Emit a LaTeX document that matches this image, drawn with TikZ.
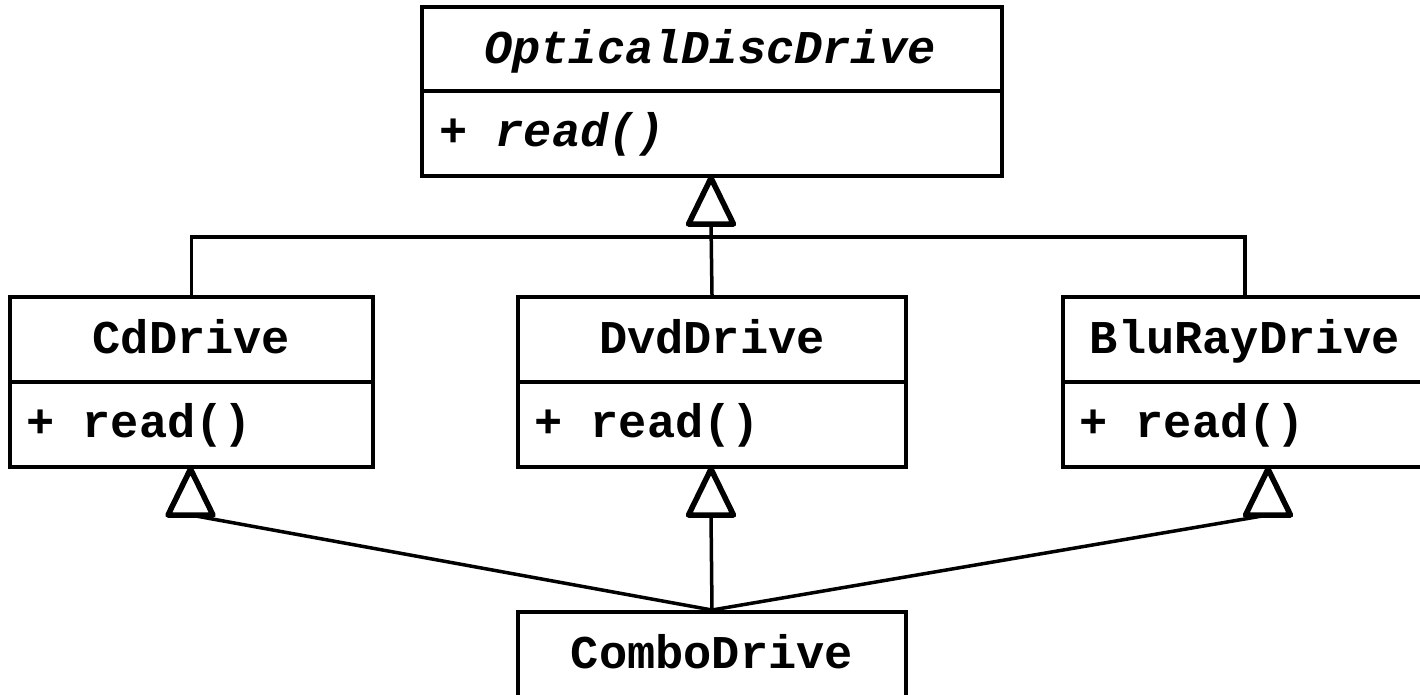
\documentclass[tikz,border=0pt]{standalone}
\usepackage{fontspec}
\setmonofont{Liberation Mono}
\usetikzlibrary{calc}

\tikzset{
  umlbox/.style={draw=black, line width=4pt, rectangle, inner sep=0pt, fill=white},
  umltext/.style={inner sep=0pt, font=\ttfamily\bfseries\fontsize{47}{56}\selectfont},
  conn/.style={line width=3.5pt},
  divider/.style={line width=4pt},
  genhead/.pic={
    \draw[line width=5.5pt, line join=round, fill=white]
      (0,0) -- (-22.5,46) -- (22.5,46) -- cycle;
  }
}

\begin{document}
\begin{tikzpicture}[x=1pt, y=-1pt]
  \useasboundingbox (0,0) rectangle (1420,694);
  \fill[white] (0,0) rectangle (1420,694);
  \clip (0,0) rectangle (1420,694);

  % class boxes (centre, size)
  \node[umlbox, minimum width=580pt, minimum height=169pt] (opt) at (712,91.5) {};
  \node[umlbox, minimum width=363pt, minimum height=170pt] (cd)  at (191.5,382) {};
  \node[umlbox, minimum width=388pt, minimum height=170pt] (dvd) at (712,382) {};
  \node[umlbox, minimum width=364pt, minimum height=170pt] (blu) at (1245,382) {};
  \node[umlbox, minimum width=388pt, minimum height=160pt] (combo) at (712,692) {};

  % compartment dividers
  \draw[divider] (opt.west |- 0,91) -- (opt.east |- 0,91);
  \draw[divider] (cd.west |- 0,382) -- (cd.east |- 0,382);
  \draw[divider] (dvd.west |- 0,382) -- (dvd.east |- 0,382);
  \draw[divider] (blu.west |- 0,382) -- (blu.east |- 0,382);

  % class names
  \node[umltext, anchor=base] (optname) at (710,63) {\itshape OpticalDiscDrive};
  \node[umltext, anchor=base] (cdname)  at (191.5,353) {CdDrive};
  \node[umltext, anchor=base] (dvdname) at (712,353) {DvdDrive};
  \node[umltext, anchor=base] (bluname) at (1245,353) {BluRayDrive};
  \node[umltext, anchor=base] (comboname) at (712,668) {ComboDrive};

  % operations
  \node[umltext, anchor=base west] (optop) at ($(opt.west |- 0,146)+(19,0)$) {+ \itshape read()};
  \node[umltext, anchor=base west] (cdop)  at ($(cd.west |- 0,437)+(18,0)$) {+ read()};
  \node[umltext, anchor=base west] (dvdop) at ($(dvd.west |- 0,437)+(18,0)$) {+ read()};
  \node[umltext, anchor=base west] (bluop) at ($(blu.west |- 0,437)+(18,0)$) {+ read()};

  % generalisation heads: apex on the parent box, base 46 below
  \coordinate (optbase) at ($(opt.south)+(-1,46)$);
  \coordinate (cdbase)  at ($(cd.south)+(-1,46)$);
  \coordinate (dvdbase) at ($(dvd.south)+(-1,46)$);
  \coordinate (blubase) at ($(blu.south)+(23,46)$);
  \coordinate (bus) at (712,237);

  % connectors
  \draw[conn] (cd.north) |- (bus) -| (blu.north);
  \draw[conn] (dvd.north) -- (optbase);
  \draw[conn] (combo.north) -- (cdbase);
  \draw[conn] (combo.north) -- (dvdbase);
  \draw[conn] (combo.north) -- (blubase);

  % open triangle heads
  \pic at ($(opt.south)+(-1,0)$) {genhead};
  \pic at ($(cd.south)+(-1,0)$) {genhead};
  \pic at ($(dvd.south)+(-1,0)$) {genhead};
  \pic at ($(blu.south)+(23,0)$) {genhead};
\end{tikzpicture}
\end{document}
